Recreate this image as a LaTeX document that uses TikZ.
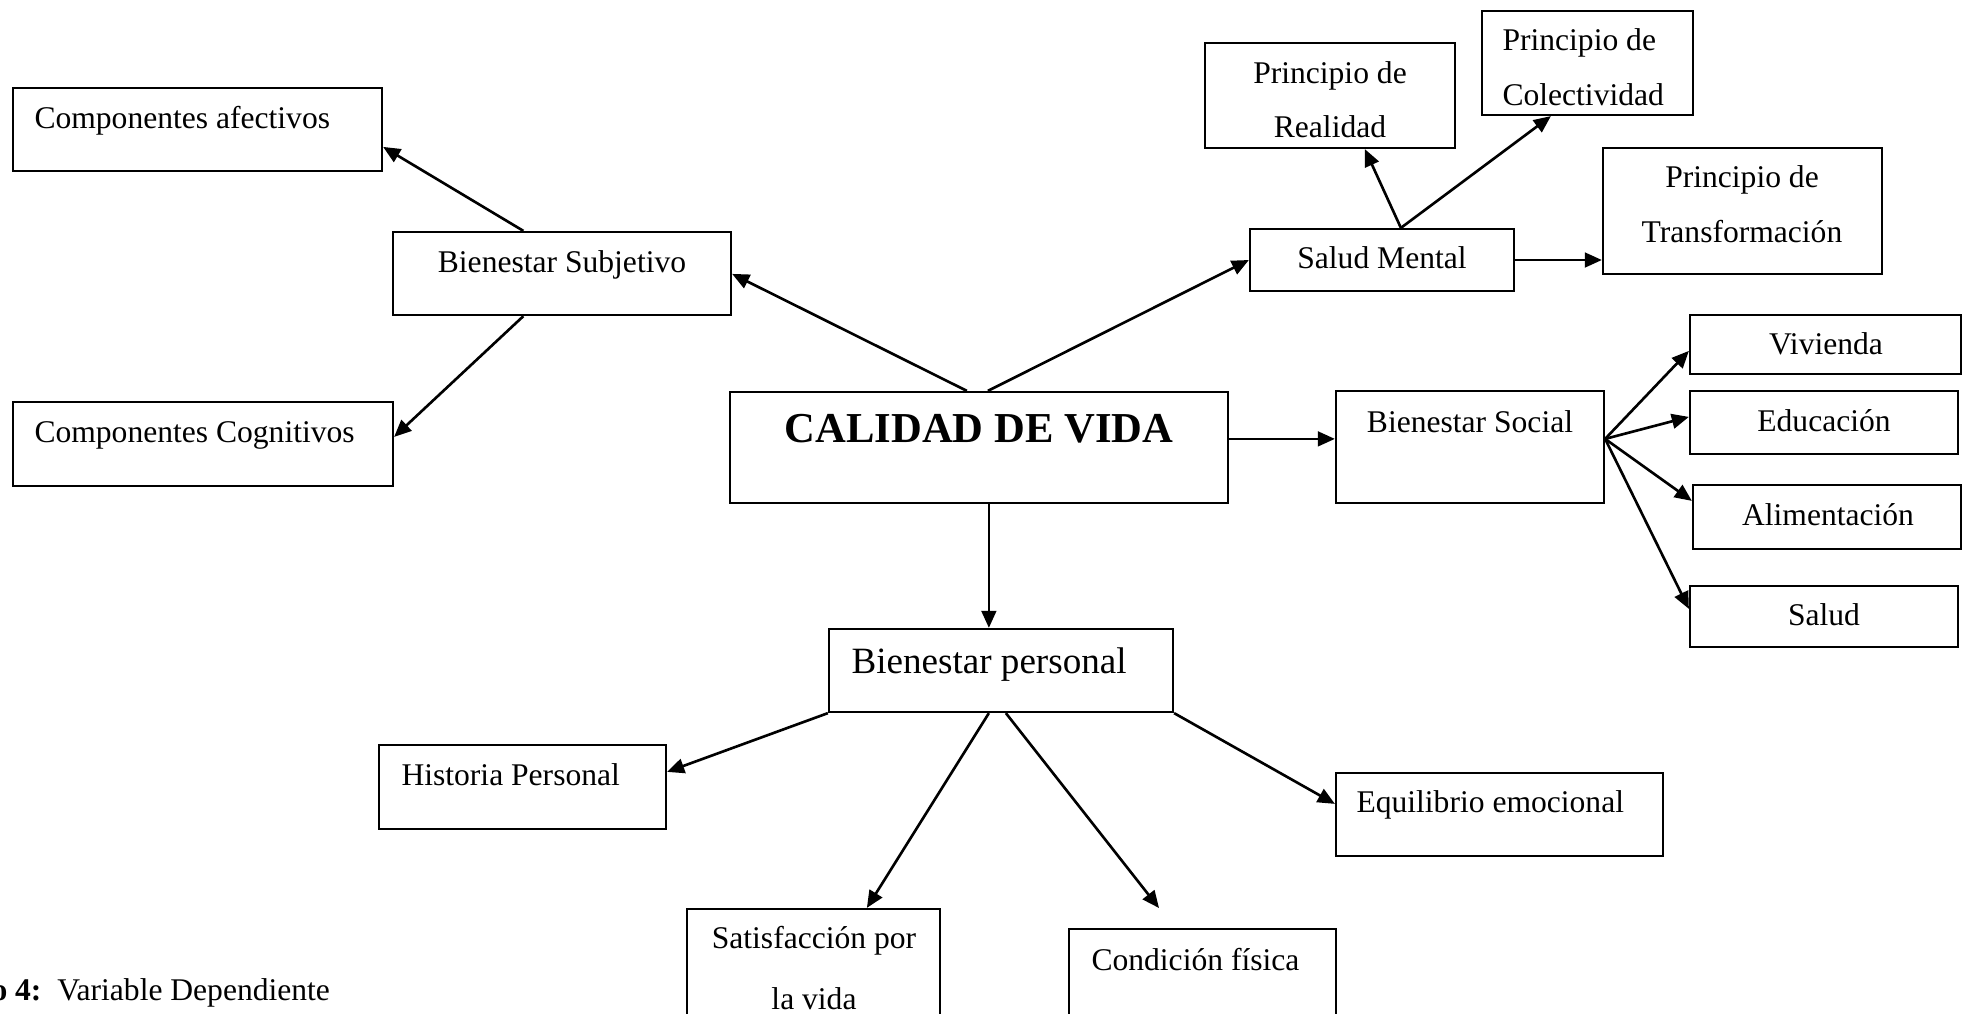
\documentclass[tikz,border=0pt]{standalone}
\usepackage{fontspec}
\setmainfont{Liberation Serif}
\usetikzlibrary{arrows.meta,calc,fit}
\tikzset{
  box/.style={draw, line width=0.85pt, inner sep=0pt, rectangle},
  txt/.style={inner sep=0pt, font=\fontsize{12}{14}\selectfont},
  big/.style={inner sep=0pt, font=\fontsize{14.1}{17}\selectfont},
  title/.style={inner sep=0pt, font=\fontsize{16.2}{19}\selectfont\bfseries},
  arr/.style={line width=1pt, -{Triangle[length=6.5pt,width=5.6pt]}}
}
\begin{document}
\begin{tikzpicture}[x=0.38pt,y=-0.38pt]
\useasboundingbox (0,0) rectangle (1974,1013);
% boxes
\node[box, fit={(13,88) (382,171)}] (ca) {};
\node[box, fit={(393,232) (731,315)}] (bs) {};
\node[box, fit={(13,402) (393,486)}] (cc) {};
\node[box, fit={(730,392) (1228,503)}] (cal) {};
\node[box, fit={(1250,229) (1514,291)}] (sm) {};
\node[box, fit={(1205,43) (1455,148)}] (re) {};
\node[box, fit={(1482,11) (1693,115)}] (co) {};
\node[box, fit={(1603,148) (1882,274)}] (tr) {};
\node[box, fit={(1336,391) (1604,503)}] (bso) {};
\node[box, fit={(1690,315) (1961,374)}] (vi) {};
\node[box, fit={(1690,391) (1958,454)}] (ed) {};
\node[box, fit={(1693,485) (1961,549)}] (al) {};
\node[box, fit={(1690,586) (1958,647)}] (sa) {};
\node[box, fit={(829,629) (1173,712)}] (bp) {};
\node[box, fit={(379,745) (666,829)}] (hi) {};
\node[box, fit={(1336,773) (1663,856)}] (eq) {};
\node[box, fit={(687,909) (940,1018)}] (sat) {};
\node[box, fit={(1069,929) (1336,1018)}] (cond) {};
% texts
\node[txt, anchor=base west] (t-ca) at (34,128) {Componentes afectivos};
\node[txt, anchor=base] (t-bs) at (562,272) {Bienestar Subjetivo};
\node[txt, anchor=base west] (t-cc) at (34,442) {Componentes Cognitivos};
\node[title, anchor=base] (t-cal) at (979,442) {CALIDAD DE VIDA};
\node[txt, anchor=base] (t-sm) at (1382,268) {Salud Mental};
\node[txt, anchor=base] (t-re1) at (1330,83) {Principio de};
\node[txt, anchor=base] (t-re2) at (1330,137) {Realidad};
\node[txt, anchor=base west] (t-co1) at (1502,50) {Principio de};
\node[txt, anchor=base west] (t-co2) at (1502,105) {Colectividad};
\node[txt, anchor=base] (t-tr1) at (1742,187) {Principio de};
\node[txt, anchor=base] (t-tr2) at (1742,242) {Transformación};
\node[txt, anchor=base] (t-bso) at (1470,432) {Bienestar Social};
\node[txt, anchor=base] (t-vi) at (1826,354) {Vivienda};
\node[txt, anchor=base] (t-ed) at (1824,431) {Educación};
\node[txt, anchor=base] (t-al) at (1828,525) {Alimentación};
\node[txt, anchor=base] (t-sa) at (1824,625) {Salud};
\node[big, anchor=base west] (t-bp) at (851,673) {Bienestar personal};
\node[txt, anchor=base west] (t-hi) at (401,785) {Historia Personal};
\node[txt, anchor=base west] (t-eq) at (1356,812) {Equilibrio emocional};
\node[txt, anchor=base] (t-sat1) at (814,948) {Satisfacción por};
\node[txt, anchor=base] (t-sat2) at (814,1009) {la vida};
\node[txt, anchor=base west] (t-cond) at (1091,970) {Condición física};
\node[txt, anchor=base west] (cap) at (-9,1000) {\textbf{o 4:}\ \ Variable Dependiente};
% connectors
\coordinate (cend) at (1159,908);
\draw[arr] ($(bs.north west)+(131.5,0)$) -- ($(ca.north east)+(0,60)$);
\draw[arr] ($(bs.south west)+(131.5,0)$) -- ($(cc.north east)+(0,36)$);
\draw[arr] ($(cal.north west)+(238,0)$) -- ($(bs.north east)+(0,43)$);
\draw[arr] ($(cal.north west)+(259,0)$) -- (sm.west);
\draw[arr] ($(cal.north east)+(0,48)$) -- ($(bso.north west)+(0,49)$);
\draw[arr] ($(cal.south west)+(260,0)$) -- ($(bp.north west)+(161,0)$);
\draw[arr] ($(sm.north west)+(152,0)$) -- ($(re.south west)+(161,0)$);
\draw[arr] ($(sm.north west)+(152,0)$) -- ($(co.south west)+(70,0)$);
\draw[arr] (sm.east) -- (sm.east -| tr.west);
\draw[arr] ($(bso.north east)+(0,49)$) -- ($(vi.north west)+(0,37)$);
\draw[arr] ($(bso.north east)+(0,49)$) -- ($(ed.north west)+(0,27)$);
\draw[arr] ($(bso.north east)+(0,49)$) -- ($(al.north west)+(0,17)$);
\draw[arr] ($(bso.north east)+(0,49)$) -- ($(sa.north west)+(0,24)$);
\draw[arr] (bp.south west) -- ($(hi.north east)+(0,28)$);
\draw[arr] ($(bp.south west)+(161,0)$) -- ($(sat.north west)+(181,0)$);
\draw[arr] ($(bp.south west)+(178,0)$) -- (cend);
\draw[arr] (bp.south east) -- ($(eq.north west)+(0,32)$);
\end{tikzpicture}
\end{document}
